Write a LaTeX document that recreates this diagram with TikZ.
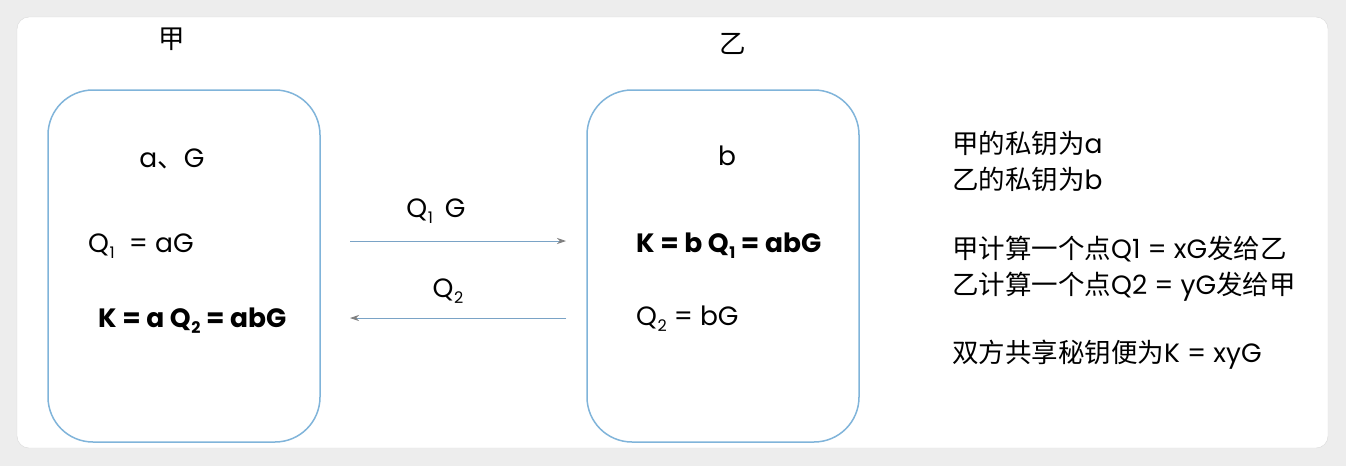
\documentclass[tikz,border=0pt]{standalone}
\usepackage{fontspec}
\setmainfont{Poppins}
\newfontfamily\cjk{Noto Sans CJK SC}
\usetikzlibrary{arrows.meta}
\definecolor{boxblue}{HTML}{80B4DA}
\definecolor{arrowblue}{HTML}{7AA3C6}
\definecolor{framegray}{HTML}{EDEDED}
\newcommand{\lowidx}[1]{\kern0.5pt\raisebox{-6pt}{\fontsize{16}{16}\selectfont #1}}
\tikzset{
  party/.style={draw=boxblue, line width=1.5pt, rounded corners=45pt, minimum width=272pt, minimum height=352pt},
  msg/.style={draw=arrowblue, line width=0.8pt, -{Stealth[length=9pt,width=6pt,color=gray]}},
  txt/.style={font=\fontsize{26.5}{30}\selectfont, inner sep=0pt},
  bigtxt/.style={txt, font=\fontsize{26.5}{30}\selectfont\bfseries},
}
\begin{document}
\begin{tikzpicture}[x=1pt, y=-1pt]
	\fill[framegray] (0,0) rectangle (1346,466);
	\fill[white, draw=gray!30, rounded corners=12pt] (17,17) rectangle (1328,448);
	% the two parties
	\node[party] (jia) at (184,266) {};
	\node[party] (yi) at (723,266) {};
	\node[txt] (jialbl) at (172,39) {\cjk 甲};
	\node[txt] (yilbl) at (733,44) {\cjk 乙};
	\node[txt, anchor=base] (ja) at (172,167) {a{\cjk 、}G};
	\node[txt, anchor=base west] (jq) at (88,252) {Q\lowidx{1}\ \ = aG};
	\node[bigtxt, anchor=base west] (jk) at (98,327) {K = a Q\lowidx{2} = abG};
	\node[txt, anchor=base] (yb) at (727,165) {b};
	\node[bigtxt, anchor=base west] (yk) at (636,252) {K = b Q\lowidx{1} = abG};
	\node[txt, anchor=base west] (yq) at (636,325) {Q\lowidx{2} = bG};
	% messages
	\coordinate (s1) at (350,241); \coordinate (e1) at (566,241);
	\coordinate (s2) at (566,318); \coordinate (e2) at (350,318);
	\draw[msg] (s1) -- (e1);
	\draw[msg] (s2) -- (e2);
	\node[txt, anchor=base] (m1) at (436,217) {Q\lowidx{1}\hspace{12pt}G};
	\node[txt, anchor=base] (m2) at (448,297) {Q\lowidx{2}};
	% notes
	\node[txt, anchor=base west] (n1) at (952,153) {{\cjk 甲的私钥为}a};
	\node[txt, anchor=base west] (n2) at (952,189) {{\cjk 乙的私钥为}b};
	\node[txt, anchor=base west] (n3) at (952,258) {{\cjk 甲计算一个点}Q1 = xG{\cjk 发给乙}};
	\node[txt, anchor=base west] (n4) at (952,294) {{\cjk 乙计算一个点}Q2 = yG{\cjk 发给甲}};
	\node[txt, anchor=base west] (n5) at (952,362) {{\cjk 双方共享秘钥便为}K = xyG};
\end{tikzpicture}
\end{document}
